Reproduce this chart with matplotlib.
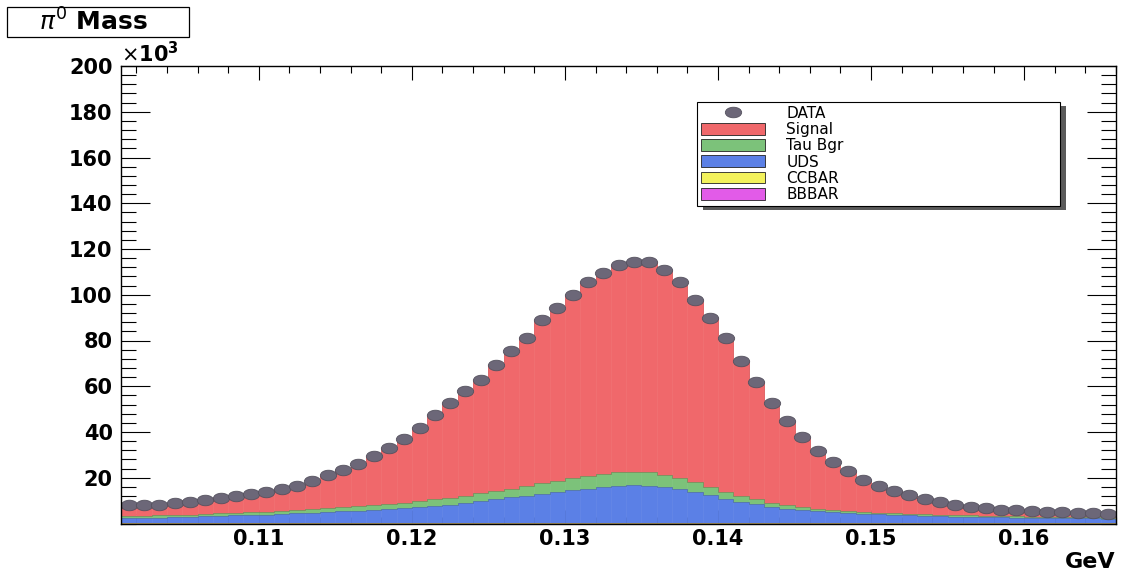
import numpy as np
import matplotlib.pyplot as plt
from matplotlib.markers import MarkerStyle
from matplotlib.transforms import Affine2D
from matplotlib.patches import Patch, Rectangle
from matplotlib.lines import Line2D
from matplotlib.ticker import MultipleLocator

# pi0 candidate mass, 1 MeV bins, entries per bin in units of 10^3
m_lo, m_hi, n_bins = 0.101, 0.166, 65

data = [7.9, 8.0, 8.3, 9.0, 9.6, 10.2, 11.2, 12.2, 13.0, 13.8,
        15.1, 16.6, 18.5, 21.0, 23.6, 26.2, 29.7, 33.1, 37.0, 41.6,
        47.3, 52.7, 57.8, 62.9, 69.4, 75.2, 81.1, 89.1, 94.2, 100.0,
        105.5, 109.7, 113.1, 114.5, 114.5, 110.9, 105.4, 97.8, 89.8, 81.1,
        70.9, 61.7, 52.7, 44.7, 37.9, 31.6, 26.8, 22.8, 19.2, 16.3,
        14.1, 12.4, 10.8, 9.5, 8.3, 7.3, 6.6, 6.1, 5.7, 5.4,
        5.1, 5.0, 4.7, 4.4, 4.1]

signal = [4.7, 4.7, 4.7, 5.3, 5.7, 6.0, 6.8, 7.5, 8.1, 8.6,
          9.5, 10.6, 12.1, 14.2, 16.5, 18.7, 21.8, 24.7, 28.0, 31.9,
          36.8, 41.4, 45.6, 49.7, 55.2, 59.9, 64.7, 71.6, 75.6, 80.3,
          84.8, 88.0, 90.7, 91.8, 92.1, 89.5, 85.5, 79.8, 73.9, 67.2,
          58.8, 51.2, 43.6, 36.7, 30.8, 25.2, 20.9, 17.4, 14.2, 11.5,
          9.6, 8.1, 6.7, 5.7, 4.7, 3.8, 3.2, 2.9, 2.6, 2.4,
          2.2, 2.2, 2.0, 1.7, 1.5]

tau_bgr = [0.9, 0.9, 1.0, 1.0, 1.0, 1.1, 1.1, 1.2, 1.2, 1.3,
           1.4, 1.5, 1.6, 1.7, 1.8, 1.9, 2.0, 2.2, 2.4, 2.6,
           2.8, 3.0, 3.2, 3.4, 3.6, 3.9, 4.2, 4.5, 4.8, 5.1,
           5.4, 5.7, 5.9, 6.0, 5.9, 5.5, 4.9, 4.3, 3.6, 3.0,
           2.5, 2.1, 1.8, 1.5, 1.3, 1.1, 1.0, 0.9, 0.8, 0.8,
           0.7, 0.7, 0.7, 0.6, 0.6, 0.6, 0.6, 0.5, 0.5, 0.5,
           0.5, 0.5, 0.5, 0.5, 0.5]

uds = [2.0, 2.1, 2.3, 2.4, 2.6, 2.8, 3.0, 3.2, 3.4, 3.6,
       3.9, 4.2, 4.5, 4.8, 5.0, 5.3, 5.6, 5.9, 6.3, 6.8,
       7.4, 8.0, 8.7, 9.5, 10.3, 11.1, 11.9, 12.7, 13.5, 14.3,
       15.0, 15.7, 16.2, 16.4, 16.2, 15.6, 14.7, 13.4, 12.0, 10.6,
       9.3, 8.1, 7.0, 6.2, 5.5, 5.0, 4.6, 4.2, 3.9, 3.7,
       3.5, 3.3, 3.1, 2.9, 2.7, 2.6, 2.5, 2.4, 2.3, 2.2,
       2.1, 2.0, 1.9, 1.9, 1.8]

ccbar = [0.2, 0.2, 0.2, 0.2, 0.2, 0.2, 0.2, 0.2, 0.2, 0.2,
         0.2, 0.2, 0.2, 0.2, 0.2, 0.2, 0.2, 0.2, 0.2, 0.2,
         0.2, 0.2, 0.2, 0.2, 0.2, 0.2, 0.2, 0.2, 0.2, 0.2,
         0.2, 0.2, 0.2, 0.2, 0.2, 0.2, 0.2, 0.2, 0.2, 0.2,
         0.2, 0.2, 0.2, 0.2, 0.2, 0.2, 0.2, 0.2, 0.2, 0.2,
         0.2, 0.2, 0.2, 0.2, 0.2, 0.2, 0.2, 0.2, 0.2, 0.2,
         0.2, 0.2, 0.2, 0.2, 0.2]

bbbar = [0.1, 0.1, 0.1, 0.1, 0.1, 0.1, 0.1, 0.1, 0.1, 0.1,
         0.1, 0.1, 0.1, 0.1, 0.1, 0.1, 0.1, 0.1, 0.1, 0.1,
         0.1, 0.1, 0.1, 0.1, 0.1, 0.1, 0.1, 0.1, 0.1, 0.1,
         0.1, 0.1, 0.1, 0.1, 0.1, 0.1, 0.1, 0.1, 0.1, 0.1,
         0.1, 0.1, 0.1, 0.1, 0.1, 0.1, 0.1, 0.1, 0.1, 0.1,
         0.1, 0.1, 0.1, 0.1, 0.1, 0.1, 0.1, 0.1, 0.1, 0.1,
         0.1, 0.1, 0.1, 0.1, 0.1]

x_ticks = [0.11, 0.12, 0.13, 0.14, 0.15, 0.16]
x_ticklabels = ['0.11', '0.12', '0.13', '0.14', '0.15', '0.16']
y_ticks = [20, 40, 60, 80, 100, 120, 140, 160, 180, 200]

# stack order, bottom first
stack = [
    ('BBBAR', bbbar, '#e25be8', '#a03aa6'),
    ('CCBAR', ccbar, '#f3f25c', '#b0ad30'),
    ('UDS', uds, '#5b80e6', '#4861b8'),
    ('Tau Bgr', tau_bgr, '#7cc27a', '#5c9a5a'),
    ('Signal', signal, '#f0686b', '#d85a5e'),
]
data_color = '#6c6778'

edges = np.linspace(m_lo, m_hi, n_bins + 1)
centers = 0.5 * (edges[:-1] + edges[1:])
width = edges[1] - edges[0]

W, H = 1123, 573
fig = plt.figure(figsize=(W / 100, H / 100), dpi=100)
ax = fig.add_axes([121 / W, (H - 523.5) / H, 995 / W, 457.5 / H])

base = np.zeros(n_bins)
for name, vals, fc, ec in stack:
    vals = np.asarray(vals)
    ax.bar(centers, vals, width=width, bottom=base, color=fc,
           edgecolor=fc, linewidth=0.4, zorder=2)
    base = base + vals
    ax.stairs(base, edges, color=ec, linewidth=0.5, zorder=3)

# data points drawn as flattened dots
dot = MarkerStyle('o', transform=Affine2D().scale(1.55, 1.0))
ax.plot(centers, data, ls='none', marker=dot, ms=7.6, color=data_color,
        mec='#55525f', mew=0.6, zorder=5)

ax.set_xlim(m_lo, m_hi)
ax.set_ylim(0, 200)
ax.set_xticks(x_ticks)
ax.set_xticklabels(x_ticklabels)
ax.set_yticks(y_ticks)
ax.xaxis.set_minor_locator(MultipleLocator(0.002))
ax.yaxis.set_minor_locator(MultipleLocator(4))
ax.tick_params(which='both', direction='in', top=True, right=True,
               width=0.8, color='black')
ax.tick_params(axis='x', which='major', length=10, pad=4)
ax.tick_params(axis='x', which='minor', length=5)
ax.tick_params(axis='y', which='major', length=21, pad=6)
ax.tick_params(axis='y', which='minor', length=10.5)
for lab in ax.get_xticklabels() + ax.get_yticklabels():
    lab.set_fontsize(15)
    lab.set_fontweight('bold')
for sp in ax.spines.values():
    sp.set_linewidth(1.0)
    sp.set_zorder(6)

ax.text(0.0, 1.0, r'$\times\mathbf{10^{3}}$', transform=ax.transAxes,
        ha='left', va='bottom', fontsize=15)
ax.text(1.0, -0.084, 'GeV', transform=ax.transAxes, ha='right',
        va='center', fontsize=16, fontweight='bold')

handles = [Line2D([], [], ls='none', marker=dot, ms=7.6, color=data_color,
                  mec='#55525f', mew=0.6)]
labels = ['DATA']
for name, vals, fc, ec in stack[::-1]:
    handles.append(Patch(facecolor=fc, edgecolor='#222222', linewidth=0.6))
    labels.append(name)

leg = ax.legend(handles, labels, loc='upper left',
                bbox_to_anchor=(0.579, 0.679, 0.365, 0.242), mode='expand',
                fontsize=11, frameon=True, fancybox=False,
                shadow={'ox': 4, 'oy': -3, 'facecolor': '#5a5a5a',
                        'edgecolor': 'none', 'alpha': 1.0},
                handlelength=4.2, handleheight=0.8, labelspacing=0.08,
                handletextpad=1.4, borderpad=0.25, borderaxespad=0)
leg.get_frame().set_edgecolor('black')
leg.get_frame().set_linewidth(0.8)
leg.set_zorder(7)

# title box
fig.patches.append(Rectangle((7 / W, (H - 37) / H), 182 / W, 30 / H,
                             transform=fig.transFigure, facecolor='white',
                             edgecolor='black', linewidth=0.9))
fig.text(93 / W, (H - 22) / H, r'$\pi^{0}$ Mass', ha='center', va='center',
         fontsize=18, fontweight='bold')

fig.savefig('out.png', dpi=100)
